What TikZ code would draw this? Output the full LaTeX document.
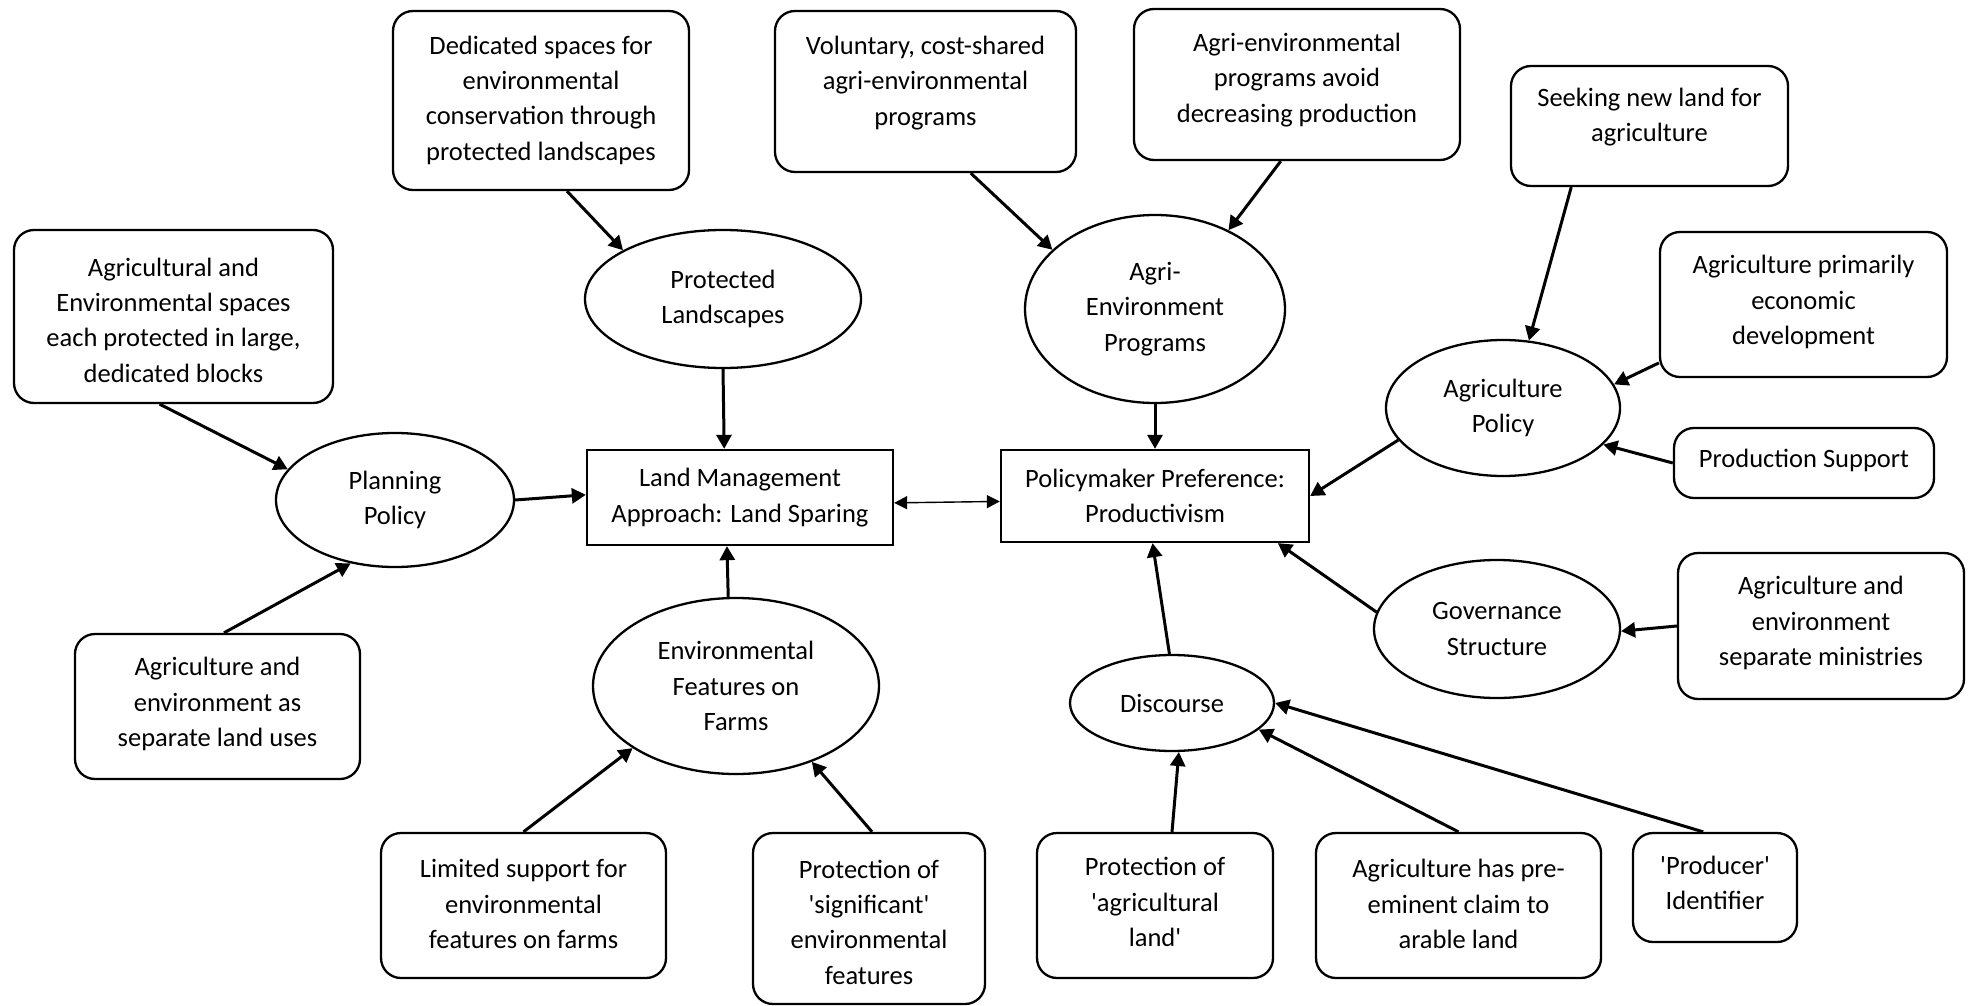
\documentclass[tikz,border=0pt]{standalone}
\usepackage{fontspec}
\setmainfont{Carlito}
\usetikzlibrary{arrows.meta,shapes.geometric}
\begin{document}
\begin{tikzpicture}[x=1pt,y=-1pt,
  fnt/.style={font=\fontsize{26.5}{35.3}\selectfont},
  rbox/.style={draw, line width=2.3pt, rounded corners=20pt, inner sep=0pt},
  rect/.style={draw, line width=2.3pt, inner sep=0pt, align=center, fnt},
  ell/.style={draw, ellipse, line width=2.3pt, inner sep=0pt, align=center, fnt},
  txt/.style={align=center, inner sep=0pt, fnt},
  arr/.style={line width=3pt, -{Triangle[length=14pt,width=15pt]}},
  dbl/.style={line width=1.4pt, {Triangle[length=13pt,width=13pt]}-{Triangle[length=13pt,width=13pt]}}
]
\fill[white] (0,0) rectangle (1968,1006);
\useasboundingbox (0,0) rectangle (1968,1006);

% rounded boxes
\node[rbox, minimum width=296pt, minimum height=179pt] (A) at (541,100.5) {};
\node[txt] (tA) at (541,100) {Dedicated spaces for\\environmental\\conservation through\\protected landscapes};
\node[rbox, minimum width=301pt, minimum height=161pt] (B) at (925.5,91.5) {};
\node[txt] (tB) at (925.5,83) {Voluntary, cost-shared\\agri-environmental\\programs};
\node[rbox, minimum width=319pt, minimum height=173pt] (C) at (173.5,316.5) {};
\node[txt] (tC) at (173.5,320) {Agricultural and\\Environmental spaces\\each protected in large,\\dedicated blocks};
\node[rbox, minimum width=326pt, minimum height=151pt] (D) at (1297,84.5) {};
\node[txt] (tD) at (1297,80) {Agri-environmental\\programs avoid\\decreasing production};
\node[rbox, minimum width=277pt, minimum height=120pt] (E) at (1649.5,126) {};
\node[txt] (tE) at (1649.5,117) {Seeking new land for\\agriculture};
\node[rbox, minimum width=287pt, minimum height=145pt] (F) at (1803.5,304.5) {};
\node[txt] (tF) at (1803.5,302) {Agriculture primarily\\economic\\development};
\node[rbox, minimum width=260pt, minimum height=70pt] (G) at (1804,463) {};
\node[txt] (tG) at (1804,460) {Production Support};
\node[rbox, minimum width=285pt, minimum height=145pt] (H) at (217.5,706.5) {};
\node[txt] (tH) at (217.5,704) {Agriculture and\\environment as\\separate land uses};
\node[rbox, minimum width=285pt, minimum height=145pt] (I) at (523.5,905.5) {};
\node[txt] (tI) at (523.5,904) {Limited support for\\environmental\\features on farms};
\node[rbox, minimum width=232pt, minimum height=171pt] (J) at (869,918.5) {};
\node[txt] (tJ) at (869,922) {Protection of\\\textquotesingle significant\textquotesingle\\environmental\\features};
\node[rbox, minimum width=286pt, minimum height=146pt] (K) at (1821,626) {};
\node[txt] (tK) at (1821,623) {Agriculture and\\environment\\separate ministries};
\node[rbox, minimum width=236pt, minimum height=145pt] (L) at (1155,905.5) {};
\node[txt] (tL) at (1155,902) {Protection of\\\textquotesingle agricultural\\land\textquotesingle};
\node[rbox, minimum width=285pt, minimum height=145pt] (M) at (1458.5,905.5) {};
\node[txt] (tM) at (1458.5,904) {Agriculture has pre-\\eminent claim to\\arable land};
\node[rbox, minimum width=164pt, minimum height=109pt] (N) at (1715,887.5) {};
\node[txt] (tN) at (1715,883) {\textquotesingle Producer\textquotesingle\\Identifier};

% central rectangles
\node[rect, minimum width=306pt, minimum height=95pt] (LM) at (740,497.5) {Land Management\\Approach: Land Sparing};
\node[rect, minimum width=308pt, minimum height=92pt] (PM) at (1155,496) {Policymaker Preference:\\Productivism};

% ellipses
\node[ell, minimum width=276pt, minimum height=138pt] (PL) at (723,299) {Protected\\Landscapes};
\node[ell, minimum width=238pt, minimum height=134pt] (PP) at (395,500) {Planning\\Policy};
\node[ell, minimum width=260pt, minimum height=188pt] (AE) at (1155,309) {Agri-\\Environment\\Programs};
\node[ell, minimum width=234pt, minimum height=136pt] (AP) at (1503,408) {Agriculture\\Policy};
\node[ell, minimum width=286pt, minimum height=176pt] (EF) at (736,686) {Environmental\\Features on\\Farms};
\node[ell, minimum width=204pt, minimum height=96pt] (DI) at (1172,703) {Discourse};
\node[ell, minimum width=246pt, minimum height=138pt] (GS) at (1497,629) {Governance\\Structure};

% connectors
\draw[arr] (A.-74.2) -- (PL.154.1);
\draw[arr] (PL.south) -- (LM.108.6);
\draw[arr] (C.-99.2) -- (PP.164.1);
\draw[arr] (PP.east) -- (LM.179);
\draw[arr] (B.-61.9) -- (AE.150.3);
\draw[arr] (D.-102.4) -- (AE.47.6);
\draw[arr] (AE.south) -- (PM.north);
\draw[arr] (E.-142.6) -- (AP.69.3);
\draw[arr] (F.-158.9) -- (AP.12.2);
\draw[arr] (G.west) -- (AP.-20.2);
\draw[arr] (AP.-163.2) -- (PM.east);
\draw[dbl] (LM.-2) -- (PM.182.6);
\draw[arr] (H.85.7) -- (PP.-125.9);
\draw[arr] (EF.95.3) -- (LM.-105.8);
\draw[arr] (I.north) -- (EF.-149);
\draw[arr] (J.88) -- (EF.-45.4);
\draw[arr] (DI.93.6) -- (PM.-93.5);
\draw[arr] (GS.172) -- (PM.-21.1);
\draw[arr] (K.west) -- (GS.-1);
\draw[arr] (L.77.6) -- (DI.-82.9);
\draw[arr] (M.north) -- (DI.-17.4);
\draw[arr] (N.102.4) -- (DI.east);
\end{tikzpicture}
\end{document}
